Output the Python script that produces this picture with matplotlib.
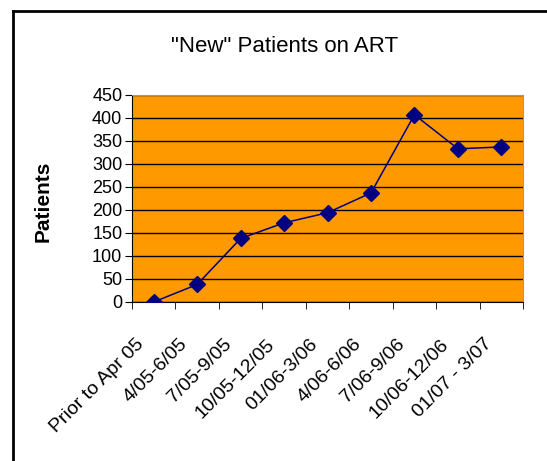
import matplotlib.pyplot as plt
import numpy as np
from matplotlib.lines import Line2D
from matplotlib.transforms import ScaledTranslation

periods = ["Prior to Apr 05", "4/05-6/05", "7/05-9/05", "10/05-12/05", "01/06-3/06",
           "4/06-6/06", "7/06-9/06", "10/06-12/06", "01/07 - 3/07"]
patients = [0, 38, 138, 172, 194, 237, 407, 333, 337]
y_ticks = list(range(0, 451, 50))

plt.rcParams["font.family"] = ["Liberation Sans", "DejaVu Sans"]

fig = plt.figure(figsize=(5.47, 4.61), dpi=100)
ax = fig.add_axes([0.2413, 0.345, 0.715, 0.449])

x = np.arange(len(periods))
ax.set_facecolor("#FF9900")
ax.plot(x, patients, color="#000080", lw=1.1, marker="D", ms=8.5, zorder=3)

ax.set_xlim(-0.5, len(periods) - 0.5)
ax.set_ylim(0, 450)
ax.set_yticks(y_ticks)
ax.yaxis.grid(True, color="black", lw=1)
ax.set_axisbelow(True)

ax.set_xticks(x)
ax.set_xticklabels(periods, rotation=45, ha="right", va="center",
                   rotation_mode="anchor", fontsize=14)
ax.tick_params(axis="x", which="major", length=0, pad=12)
shift = ScaledTranslation(-12 / 100, -23 / 100, fig.dpi_scale_trans)
for lab in ax.get_xticklabels():
    lab.set_transform(lab.get_transform() + shift)
ax.set_xticks(np.arange(-0.5, len(periods)), minor=True)
ax.tick_params(axis="x", which="minor", length=5, direction="out")
ax.tick_params(axis="y", length=5, labelsize=13, pad=2)

for side in ["top", "right"]:
    ax.spines[side].set_color("#999999")
for side in ["left", "bottom"]:
    ax.spines[side].set_color("black")

ax.set_ylabel("Patients", fontsize=15, fontweight="bold")
ax.yaxis.label.set_transform(fig.transFigure)
ax.yaxis.label.set_position((53 / 547, 1 - 201 / 461))
ax.yaxis.set_label_coords(53 / 547, 1 - 201 / 461, transform=fig.transFigure)
fig.text(285 / 547, 1 - 47 / 461, '"New" Patients on ART', ha="center", va="center", fontsize=16)

# outer frame (cropped at right and bottom)
fig.add_artist(Line2D([13 / 547, 13 / 547], [0, 1 - 11 / 461], color="black", lw=2))
fig.add_artist(Line2D([13 / 547, 1], [1 - 11 / 461, 1 - 11 / 461], color="black", lw=2))

fig.savefig("out.png", dpi=100)
